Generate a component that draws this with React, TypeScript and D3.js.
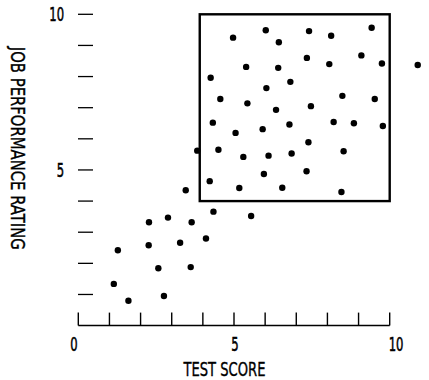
import React from "react";
import * as d3 from "d3";

// Test score (x) and job performance rating (y) for each applicant
const testScores: number[] = [
  1.14, 1.61, 2.75, 1.27, 2.26, 2.57, 3.61, 2.27, 2.88, 3.64, 3.27, 4.10, 3.45, 4.34, 5.55, 3.82, 10.90,
  4.97, 6.02, 6.44, 7.41, 8.12, 9.42,
  5.39, 6.42, 7.34, 8.06, 9.09, 9.75,
  4.25, 6.81, 6.04, 4.56, 5.43, 6.35, 7.47, 8.48, 9.52,
  4.32, 5.05, 5.92, 6.78, 8.20, 8.85, 9.78,
  4.50, 5.30, 6.11, 6.85, 7.39, 8.52,
  5.96, 7.33, 4.22, 5.17, 6.55, 8.45,
];
const ratings: number[] = [
  1.34, 0.80, 0.95, 2.42, 2.58, 1.84, 1.88, 3.32, 3.47, 3.32, 2.66, 2.80, 4.35, 3.66, 3.52, 5.62, 8.37,
  9.25, 9.49, 9.10, 9.46, 9.31, 9.57,
  8.31, 8.28, 8.60, 8.40, 8.68, 8.42,
  7.96, 7.83, 7.63, 7.28, 7.14, 6.93, 7.05, 7.38, 7.28,
  6.52, 6.19, 6.31, 6.46, 6.54, 6.50, 6.41,
  5.65, 5.42, 5.46, 5.53, 5.89, 5.60,
  4.87, 4.96, 4.64, 4.42, 4.43, 4.29,
];

// Selected region (restriction of range box)
const boxX: [number, number] = [3.9, 10];
const boxY: [number, number] = [4, 10];

const xTicks: number[] = [0, 1, 2, 3, 4, 5, 6, 7, 8, 9, 10];
const xTickLabels: number[] = [0, 5, 10];
const yTicks: number[] = [1, 2, 3, 4, 5, 6, 7, 8, 9, 10];
const yTickLabels: number[] = [5, 10];

const xTitle = "TEST SCORE";
const yTitle = "JOB PERFORMANCE RATING";

const FONT = "'DejaVu Sans', 'Liberation Sans', sans-serif";
const FS = 20;
const SQUEEZE = 0.58;
const TEXT_STROKE = 0.55;

function NarrowText(props: { x: number; y: number; anchor: "start" | "middle" | "end"; children: React.ReactNode }) {
  return (
    <g transform={`translate(${props.x},${props.y}) scale(${SQUEEZE},1)`}>
      <text
        x={0}
        y={0}
        textAnchor={props.anchor}
        fontFamily={FONT}
        fontSize={FS}
        fill="#000"
        stroke="#000"
        strokeWidth={TEXT_STROKE}
      >
        {props.children}
      </text>
    </g>
  );
}

export default function App() {
  const W = 429;
  const H = 380;
  const x = d3.scaleLinear().domain([0, 10]).range([78.3, 389.7]);
  const y = d3.scaleLinear().domain([0, 10]).range([325.6, 14.3]);
  // tick labels in the reference sit on a slightly wider spacing than the ticks
  const xLab = d3.scaleLinear().domain([0, 10]).range([74, 396]);
  const pts = testScores.map((v, i) => [v, ratings[i]] as [number, number]);

  return (
    <svg
      width={W}
      height={H}
      viewBox={`0 0 ${W} ${H}`}
      style={{ position: "absolute", left: 0, top: 0, background: "#fff" }}
    >
      <rect x={0} y={0} width={W} height={H} fill="#fff" />
      {/* x axis */}
      <line x1={x(0)} x2={x(10)} y1={y(0)} y2={y(0)} stroke="#000" strokeWidth={1.5} />
      {xTicks.map((t) => (
        <line key={"xt" + t} x1={x(t)} x2={x(t)} y1={y(0)} y2={y(0) - 13} stroke="#000" strokeWidth={1.4} />
      ))}
      {xTickLabels.map((t) => (
        <NarrowText key={"xl" + t} x={xLab(t)} y={350.5} anchor="middle">
          {t}
        </NarrowText>
      ))}
      <text
        x={224.5}
        y={375.5}
        textAnchor="middle"
        fontFamily={FONT}
        fontSize={FS}
        textLength={82}
        lengthAdjust="spacingAndGlyphs"
        fill="#000"
        stroke="#000"
        strokeWidth={0.4}
      >
        {xTitle}
      </text>

      {/* y ticks */}
      {yTicks.map((t) => (
        <line key={"yt" + t} x1={78} x2={93} y1={y(t)} y2={y(t)} stroke="#000" strokeWidth={1.3} />
      ))}
      {yTickLabels.map((t) => (
        <NarrowText key={"yl" + t} x={64} y={y(t) + 7} anchor="end">
          {t}
        </NarrowText>
      ))}
      <text
        transform={`translate(10.5,148.3) rotate(90)`}
        x={0}
        y={0}
        textAnchor="middle"
        fontFamily={FONT}
        fontSize={FS}
        textLength={203}
        lengthAdjust="spacingAndGlyphs"
        fill="#000"
        stroke="#000"
        strokeWidth={0.4}
      >
        {yTitle}
      </text>

      {/* box */}
      <rect
        x={x(boxX[0])}
        y={y(boxY[1])}
        width={x(boxX[1]) - x(boxX[0])}
        height={y(boxY[0]) - y(boxY[1])}
        fill="none"
        stroke="#000"
        strokeWidth={2.4}
      />

      {/* points */}
      {pts.map((p, i) => (
        <circle key={i} cx={x(p[0])} cy={y(p[1])} r={3.2} fill="#000" />
      ))}
    </svg>
  );
}
